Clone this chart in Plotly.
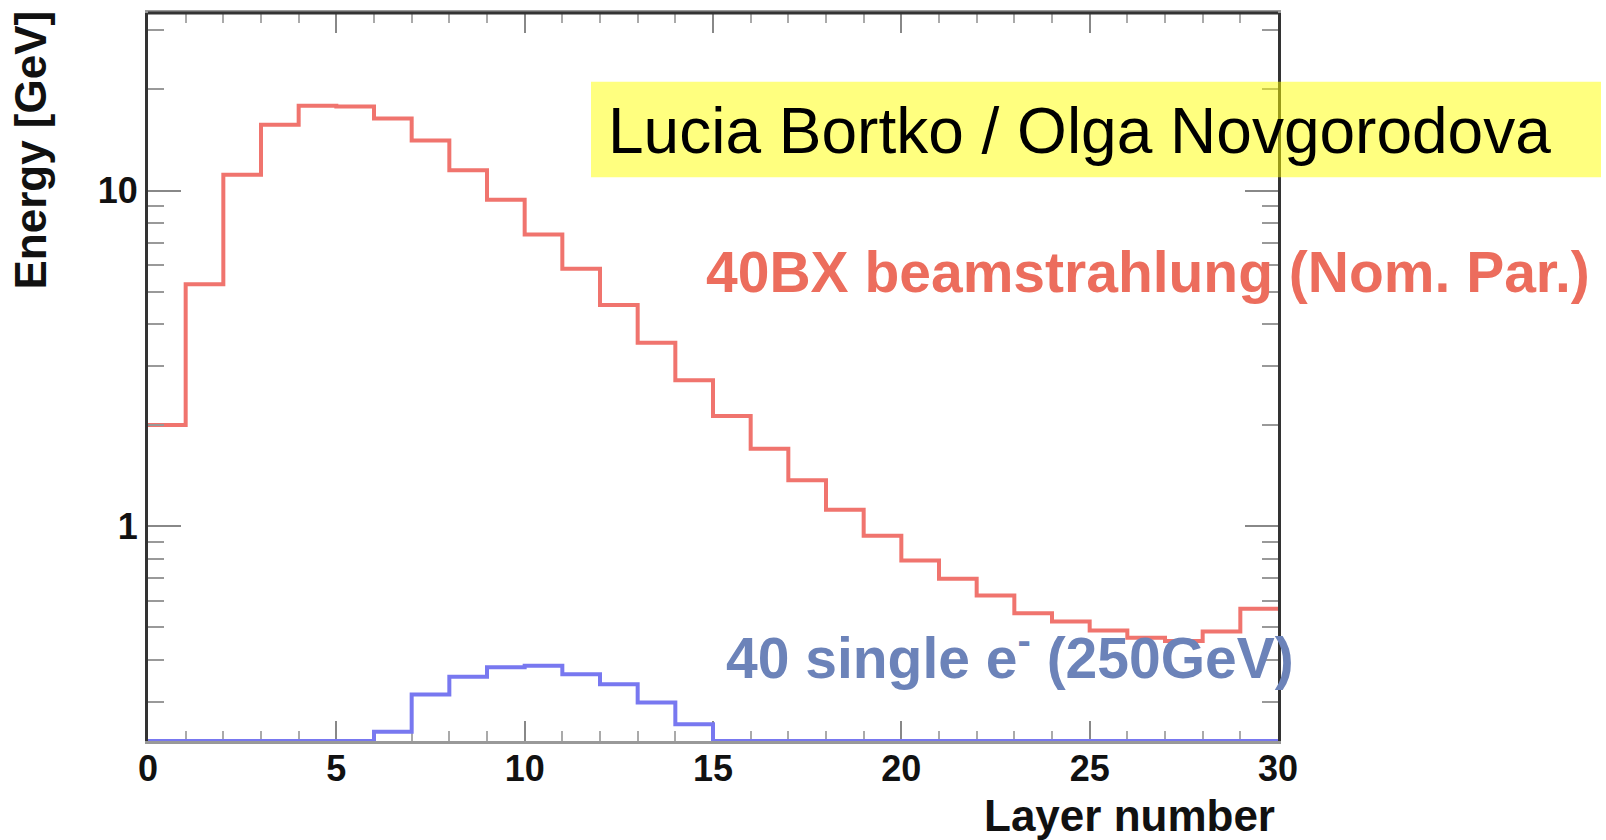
import math
import plotly.graph_objects as go

# Layer bin edges and per-layer deposited energy [GeV]
layer_edges = list(range(0, 31))
beamstrahlung_40bx = [2.0, 5.26, 11.15, 15.7, 17.9, 17.8, 16.4, 14.1, 11.5, 9.38,
                      7.39, 5.85, 4.56, 3.52, 2.72, 2.13, 1.70, 1.37, 1.12, 0.936,
                      0.79, 0.697, 0.621, 0.55, 0.52, 0.489, 0.465, 0.455, 0.485, 0.567]
single_e_40 = [0, 0, 0, 0, 0, 0, 0.244, 0.315, 0.356, 0.380,
               0.384, 0.362, 0.338, 0.298, 0.257, 0, 0, 0, 0, 0,
               0, 0, 0, 0, 0, 0, 0, 0, 0, 0]

x_ticks = [0, 5, 10, 15, 20, 25, 30]
y_ticks = [1, 10]
y_minor = [0.3, 0.4, 0.5, 0.6, 0.7, 0.8, 0.9, 2, 3, 4, 5, 6, 7, 8, 9, 20, 30]

Y_MIN, Y_MAX = 0.229, 33.8
W, H = 1606, 840
L, R, T, B = 148, 1278, 10, 741
FONT = "Liberation Sans, Arial, sans-serif"


def px_x(p):
    return (p - L) / (R - L)


def px_y(p):
    return (B - p) / (B - T)


def step(values):
    # empty bins sit on the lower frame, as in a log-scale histogram
    v = [max(a, Y_MIN) for a in values]
    return v + [v[-1]]


fig = go.Figure()
fig.add_trace(go.Scatter(x=layer_edges, y=step(beamstrahlung_40bx), mode="lines",
                         line=dict(shape="hv", color="rgb(240,116,110)", width=4),
                         hoverinfo="skip", showlegend=False))
fig.add_trace(go.Scatter(x=layer_edges, y=step(single_e_40), mode="lines",
                         line=dict(shape="hv", color="rgb(120,120,240)", width=4),
                         hoverinfo="skip", showlegend=False))

tick_font = dict(family=FONT, size=36, color="#111", weight="bold")

fig.update_layout(
    width=W, height=H,
    margin=dict(l=L, r=W - R, t=T, b=H - B),
    paper_bgcolor="white", plot_bgcolor="white",
    xaxis=dict(range=[0, 30], tickvals=x_ticks, ticks="inside", ticklen=20, tickwidth=2,
               tickcolor="#888", showline=True, linecolor="#999", linewidth=3,
               mirror="allticks", showgrid=False, zeroline=False, tickfont=tick_font,
               ticklabelstandoff=-6,
               minor=dict(dtick=1, ticks="inside", ticklen=10, tickwidth=2, tickcolor="#aaa",
                          showgrid=False),
               layer="below traces"),
    yaxis=dict(type="log", range=[math.log10(Y_MIN), math.log10(Y_MAX)],
               tickvals=y_ticks, ticktext=["1", "10"], ticks="inside", ticklen=33,
               tickwidth=2, tickcolor="#888", showline=True, linecolor="#333", linewidth=3,
               mirror="allticks", showgrid=False, zeroline=False, tickfont=tick_font,
               minor=dict(tickvals=y_minor, ticks="inside", ticklen=16, tickwidth=2,
                          tickcolor="#999", showgrid=False)),
)

# dark top frame line
fig.add_shape(type="line", xref="paper", yref="paper", x0=0, x1=1, y0=1, y1=1,
              line=dict(color="#333", width=3))

# translucent yellow author banner
fig.add_shape(type="rect", xref="paper", yref="paper",
              x0=px_x(591), x1=px_x(1601), y0=px_y(175), y1=px_y(79),
              fillcolor="rgba(255,255,0,0.5)", line=dict(width=0), layer="above")

ann = [
    dict(text="Lucia Bortko / Olga Novgorodova", x=px_x(606), y=px_y(128), xanchor="left",
         yanchor="middle", font=dict(family=FONT, size=64, color="black")),
    dict(text="40BX beamstrahlung (Nom. Par.)", x=px_x(704), y=px_y(270), xanchor="left",
         yanchor="middle", font=dict(family=FONT, size=57, color="#ec6d5d", weight="bold")),
    dict(text="40 single e<sup>-</sup> (250GeV)", x=px_x(724), y=px_y(654), xanchor="left",
         yanchor="middle", font=dict(family=FONT, size=57, color="#6c83b9", weight="bold")),
    dict(text="Layer number", x=px_x(1277), y=px_y(816), xanchor="right", yanchor="middle",
         font=dict(family=FONT, size=44, color="#111", weight="bold")),
    dict(text="Energy [GeV]", x=px_x(31), y=px_y(6), xanchor="center", yanchor="top",
         textangle=-90, font=dict(family=FONT, size=44, color="#111", weight="bold")),
]
for a in ann:
    fig.add_annotation(xref="paper", yref="paper", showarrow=False, **a)

fig.write_html("out.html")
